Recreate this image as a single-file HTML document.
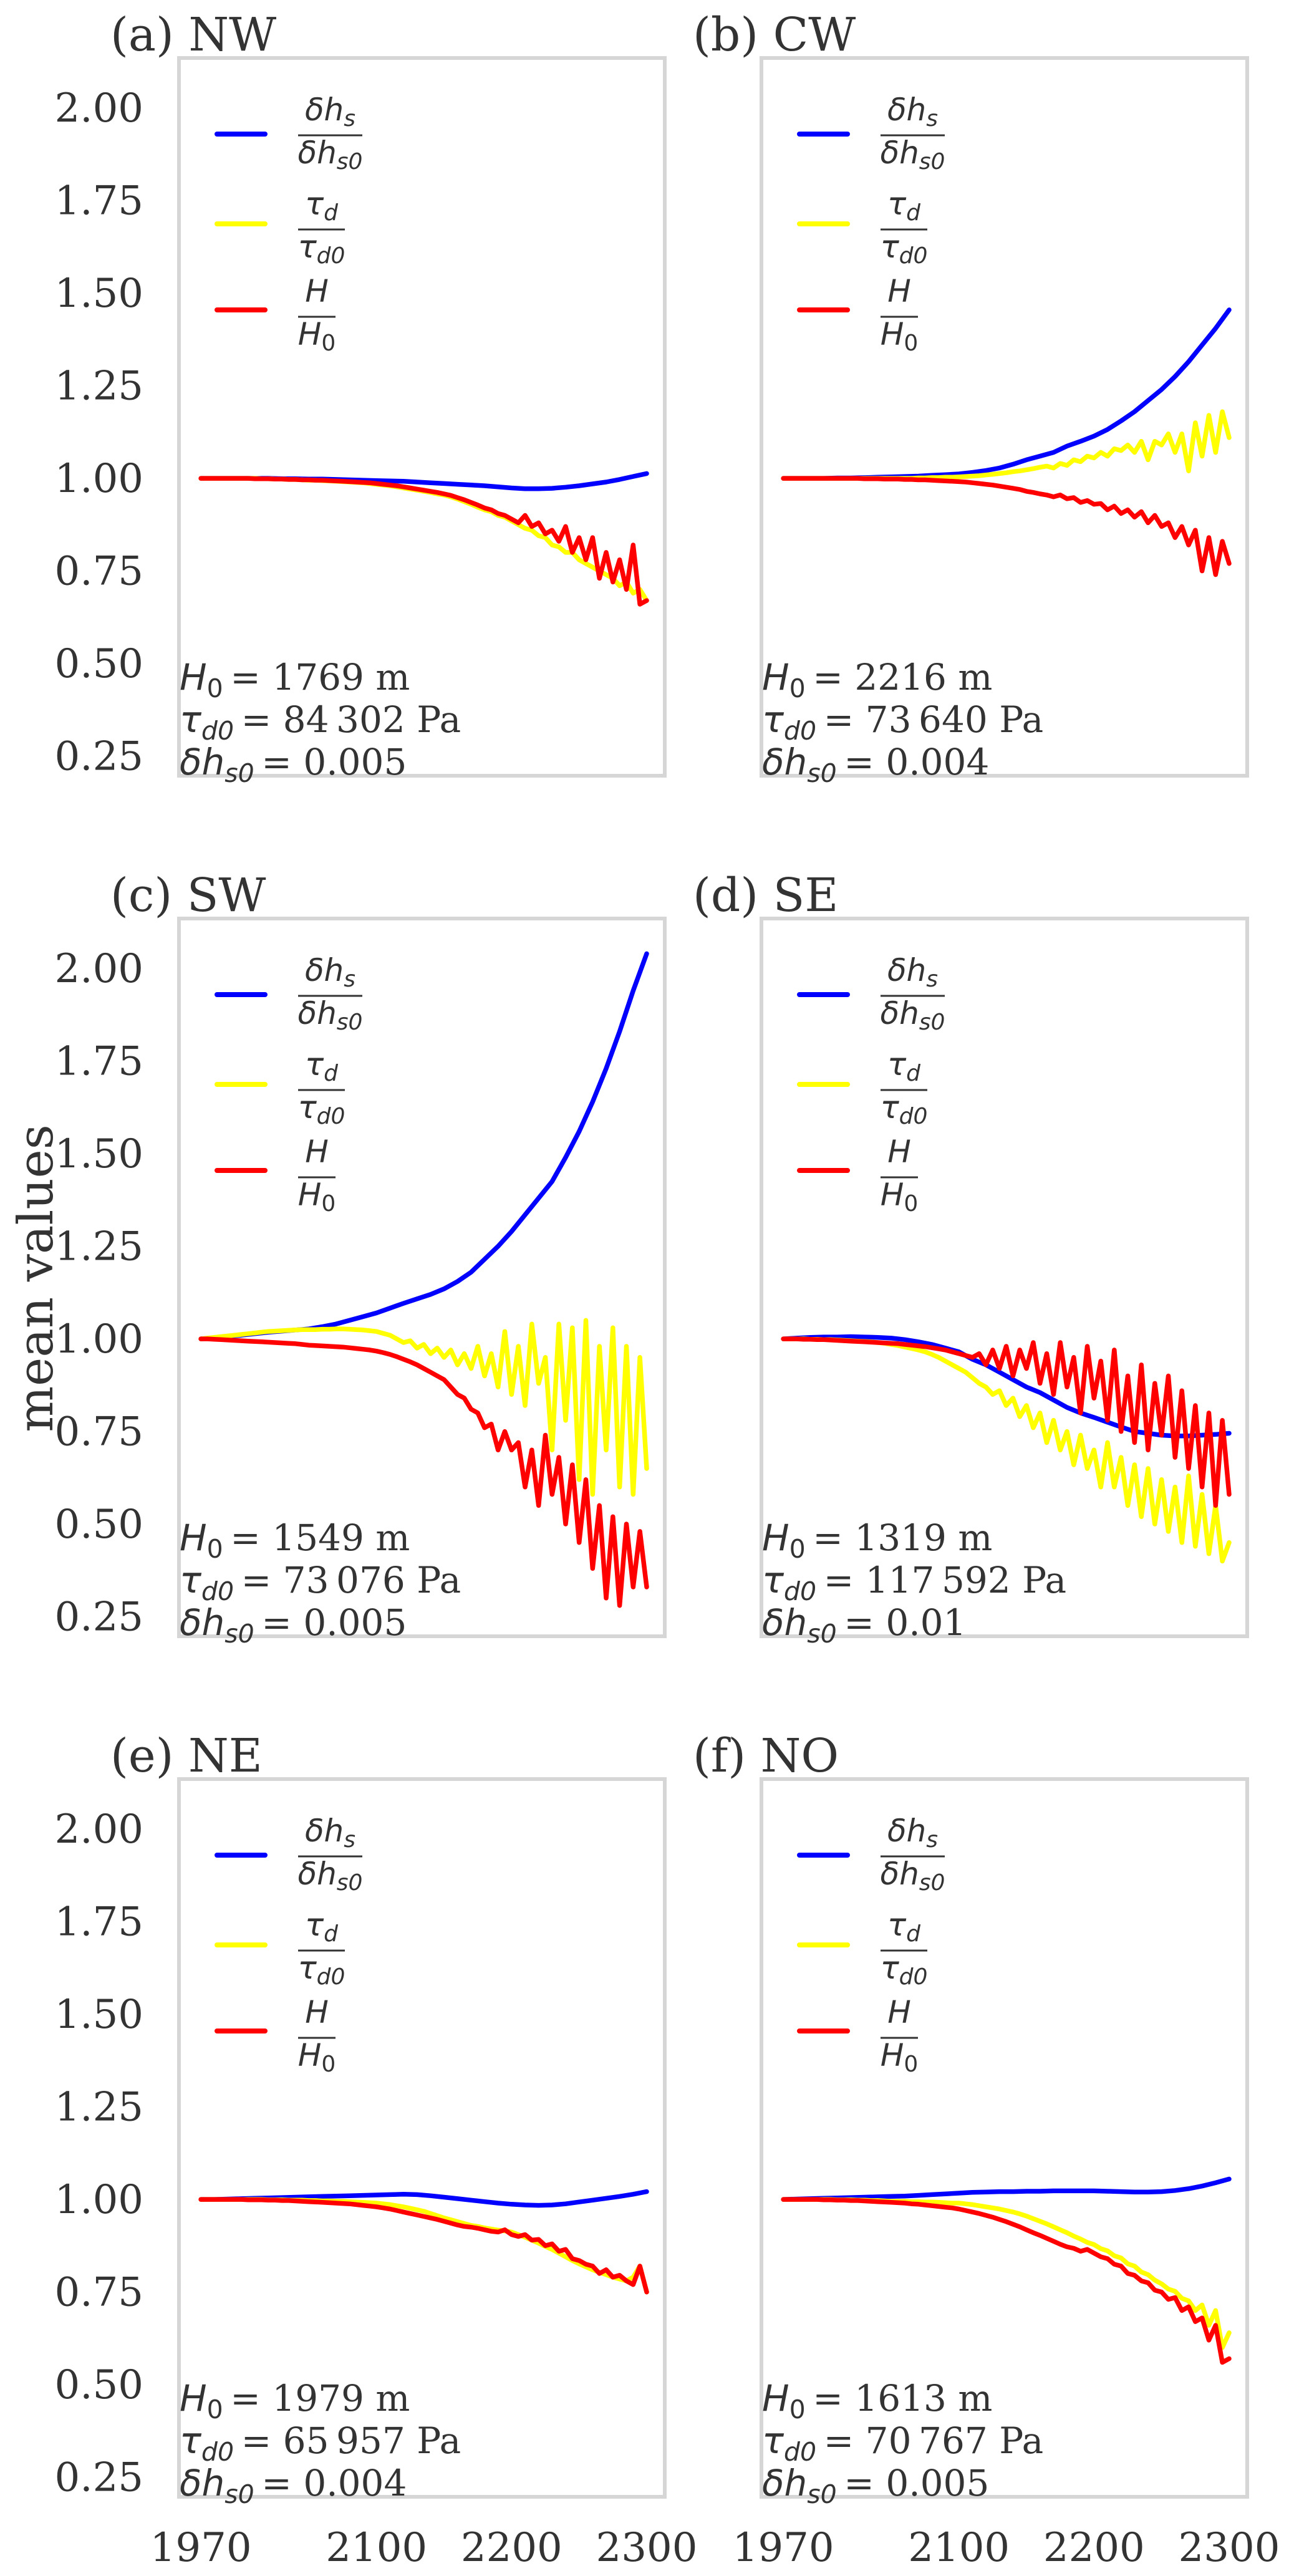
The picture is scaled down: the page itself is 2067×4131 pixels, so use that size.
<!DOCTYPE html>
<html><head><meta charset="utf-8"><title>mean values panels</title>
<style>
html,body{margin:0;padding:0;background:#fff;}
svg{display:block;}
</style></head>
<body>
<svg id="fig" xmlns="http://www.w3.org/2000/svg" width="2067" height="4131" viewBox="0 0 2067 4131">
<rect x="0" y="0" width="2067" height="4131" fill="#ffffff"/>
<text x="0" y="0" transform="translate(84,2050) rotate(-90)" text-anchor="middle" font-family="DejaVu Serif, Liberation Serif, serif" font-size="78" fill="#333">mean values</text>
</svg>
<script>
// ---- data ----
const yTicks = [0.25, 0.5, 0.75, 1.0, 1.25, 1.5, 1.75, 2.0];
const yTickLabels = ["0.25","0.50","0.75","1.00","1.25","1.50","1.75","2.00"];
const xTicks = [1970, 2100, 2200, 2300];
const xTickLabels = ["1970","2100","2200","2300"];
const panelTitles = ["(a) NW","(b) CW","(c) SW","(d) SE","(e) NE","(f) NO"];
const panelH0 = ["1769","2216","1549","1319","1979","1613"];
const panelTau0 = ["84\u2009302","73\u2009640","73\u2009076","117\u2009592","65\u2009957","70\u2009767"];
const panelDh0 = ["0.005","0.004","0.005","0.01","0.004","0.005"];

const years10 = [1970,1980,1990,2000,2010,2020,2030,2040,2050,2060,2070,2080,2090,2100,2110,2120,2130,2140,2150,2160,2170,2180,2190,2200,2210,2220,2230,2240,2250,2260,2270,2280,2290,2300];
const years5 = [1970,1975,1980,1985,1990,1995,2000,2005,2010,2015,2020,2025,2030,2035,2040,2045,2050,2055,2060,2065,2070,2075,2080,2085,2090,2095,2100,2105,2110,2115,2120,2125,2130,2135,2140,2145,2150,2155,2160,2165,2170,2175,2180,2185,2190,2195,2200,2205,2210,2215,2220,2225,2230,2235,2240,2245,2250,2255,2260,2265,2270,2275,2280,2285,2290,2295,2300];

// NW
const nwBlue = [1.0,1.0,1.0,1.0,1.0,1.0,0.999,0.999,0.998,0.998,0.997,0.996,0.995,0.994,0.993,0.992,0.99,0.988,0.986,0.984,0.982,0.98,0.977,0.974,0.972,0.972,0.973,0.976,0.98,0.985,0.99,0.997,1.005,1.013];
const nwYellow = [1.0,1.0,1.0,1.0,1.0,1.0,1.0,1.0,1.0,0.999,0.999,0.998,0.998,0.997,0.997,0.996,0.995,
 0.995,0.994,0.993,0.992,0.991,0.99,0.989,0.988,0.986,0.984,
 0.982,0.98,0.977,0.974,0.971,0.968,0.965,0.962,0.958,0.955,
 0.95,0.944,0.937,0.93,0.922,0.915,0.91,0.9,0.895,0.885,
 0.875,0.865,0.86,0.845,0.84,0.82,0.815,0.8,0.8,0.78,
 0.77,0.76,0.75,0.74,0.73,0.71,0.72,0.69,0.7,0.67];
const nwRed = [1.0,1.0,1.0,1.0,1.0,1.0,1.0,1.0,0.999,0.999,0.999,0.998,0.998,0.997,0.997,0.996,0.996,
 0.995,0.995,0.994,0.993,0.992,0.991,0.99,0.989,0.988,0.986,
 0.984,0.982,0.98,0.977,0.974,0.971,0.968,0.965,0.962,0.958,
 0.954,0.948,0.942,0.935,0.928,0.92,0.915,0.905,0.9,0.89,
 0.88,0.9,0.87,0.88,0.85,0.86,0.83,0.87,0.8,0.84,
 0.78,0.84,0.73,0.8,0.72,0.78,0.7,0.82,0.66,0.67];
// CW
const cwBlue = [1.0,1.0,1.0,1.0,1.001,1.001,1.002,1.003,1.004,1.005,1.006,1.008,1.01,1.012,1.016,1.021,1.028,1.038,1.05,1.06,1.07,1.087,1.1,1.114,1.132,1.155,1.18,1.21,1.24,1.275,1.315,1.36,1.405,1.455];
const cwYellow = [1.0,1.0,1.0,1.0,1.0,1.0,1.0,1.0,1.0,1.0,1.0,1.0,1.0,1.0,1.0,1.0,1.0,
 1.0,1.0,1.0,1.001,1.001,1.002,1.002,1.003,1.003,1.004,
 1.005,1.006,1.007,1.009,1.011,1.013,1.015,1.018,1.02,1.023,
 1.026,1.03,1.033,1.028,1.04,1.035,1.05,1.045,1.06,1.055,
 1.07,1.06,1.08,1.075,1.09,1.07,1.1,1.05,1.1,1.09,
 1.12,1.07,1.12,1.02,1.15,1.06,1.17,1.07,1.18,1.11];
const cwRed = [1.0,1.0,1.0,1.0,1.0,1.0,1.0,1.0,1.0,1.0,1.0,1.0,0.999,0.999,0.999,0.998,0.998,
 0.998,0.997,0.997,0.996,0.996,0.995,0.994,0.993,0.992,0.991,
 0.99,0.988,0.986,0.984,0.982,0.979,0.976,0.973,0.97,0.965,
 0.962,0.958,0.955,0.95,0.955,0.945,0.948,0.935,0.94,0.93,
 0.932,0.915,0.925,0.905,0.915,0.895,0.91,0.88,0.9,0.87,
 0.88,0.84,0.87,0.82,0.86,0.75,0.84,0.74,0.83,0.77];
// SW
const swBlue = [1.0,1.003,1.007,1.01,1.014,1.018,1.021,1.024,1.027,1.033,1.04,1.05,1.06,1.07,1.083,1.096,1.108,1.12,1.135,1.155,1.18,1.215,1.25,1.29,1.335,1.38,1.425,1.49,1.56,1.64,1.73,1.83,1.94,2.04];
const swYellow = [1.0,1.002,1.004,1.006,1.008,1.01,1.012,1.014,1.016,1.018,1.02,1.021,1.022,1.023,1.024,1.025,1.025,
 1.025,1.026,1.026,1.027,1.027,1.026,1.025,1.024,1.022,1.02,
 1.015,1.01,1.0,0.99,0.995,0.975,0.985,0.96,0.975,0.95,
 0.97,0.93,0.96,0.92,0.98,0.9,0.96,0.87,1.02,0.85,
 0.98,0.82,1.04,0.88,0.95,0.7,1.04,0.78,1.03,0.62,
 1.05,0.58,0.98,0.7,1.03,0.6,0.98,0.58,0.95,0.65];
const swRed = [1.0,1.0,0.999,0.998,0.997,0.996,0.995,0.994,0.993,0.992,0.991,0.99,0.989,0.988,0.987,0.985,0.983,
 0.982,0.981,0.98,0.979,0.978,0.976,0.974,0.972,0.97,0.967,
 0.963,0.958,0.952,0.945,0.938,0.93,0.92,0.91,0.9,0.89,
 0.87,0.85,0.84,0.81,0.8,0.76,0.77,0.7,0.75,0.7,
 0.72,0.6,0.7,0.55,0.74,0.58,0.68,0.5,0.66,0.45,
 0.62,0.38,0.55,0.3,0.52,0.28,0.5,0.33,0.48,0.33];
// SE
const seBlue = [1.0,1.002,1.004,1.005,1.005,1.006,1.005,1.004,1.002,0.998,0.992,0.985,0.975,0.965,0.945,0.93,0.91,0.89,0.87,0.855,0.835,0.815,0.8,0.788,0.775,0.762,0.75,0.745,0.74,0.738,0.738,0.74,0.742,0.745];
const seYellow = [1.0,1.0,1.0,1.0,0.999,0.999,0.998,0.998,0.997,0.996,0.995,0.994,0.993,0.992,0.99,0.988,0.985,
 0.982,0.978,0.974,0.97,0.965,0.958,0.95,0.94,0.93,0.92,
 0.91,0.895,0.88,0.87,0.85,0.86,0.82,0.84,0.79,0.82,
 0.76,0.8,0.72,0.78,0.7,0.75,0.66,0.74,0.65,0.7,
 0.6,0.72,0.6,0.68,0.55,0.66,0.52,0.65,0.5,0.62,
 0.48,0.6,0.45,0.63,0.44,0.58,0.42,0.55,0.4,0.45];
const seRed = [1.0,1.0,1.0,0.999,0.999,0.998,0.998,0.997,0.996,0.995,0.994,0.993,0.992,0.991,0.99,0.989,0.988,
 0.987,0.985,0.983,0.981,0.979,0.976,0.973,0.97,0.965,0.96,
 0.955,0.95,0.96,0.93,0.97,0.92,0.98,0.9,0.97,0.92,
 0.99,0.88,0.96,0.85,0.99,0.87,0.95,0.8,0.98,0.84,
 0.94,0.78,0.97,0.75,0.9,0.72,0.93,0.7,0.88,0.74,
 0.9,0.68,0.86,0.65,0.82,0.6,0.8,0.55,0.78,0.58];
// NE
const neBlue = [1.0,1.0,1.001,1.002,1.003,1.004,1.005,1.006,1.007,1.008,1.009,1.01,1.011,1.012,1.013,1.014,1.013,1.01,1.006,1.002,0.998,0.994,0.99,0.987,0.985,0.984,0.985,0.988,0.993,0.998,1.003,1.008,1.014,1.021];
const neYellow = [1.0,1.0,1.0,1.0,1.0,1.0,1.0,1.0,1.0,1.0,0.999,0.999,0.999,0.998,0.998,0.998,0.997,
 0.997,0.996,0.996,0.995,0.995,0.994,0.993,0.992,0.991,0.99,
 0.988,0.986,0.983,0.98,0.976,0.972,0.968,0.962,0.956,0.95,
 0.945,0.94,0.935,0.93,0.927,0.923,0.92,0.917,0.915,0.912,
 0.905,0.898,0.89,0.882,0.873,0.865,0.855,0.845,0.835,0.826,
 0.818,0.81,0.803,0.797,0.79,0.785,0.78,0.79,0.82,0.75];
const neRed = [1.0,1.0,1.0,1.0,1.0,1.0,1.0,0.999,0.999,0.999,0.998,0.998,0.997,0.997,0.996,0.995,0.994,
 0.993,0.992,0.991,0.99,0.989,0.988,0.986,0.984,0.982,0.98,
 0.977,0.974,0.97,0.966,0.962,0.958,0.954,0.95,0.946,0.941,
 0.936,0.931,0.927,0.925,0.922,0.918,0.914,0.912,0.918,0.905,
 0.9,0.905,0.89,0.892,0.875,0.88,0.86,0.865,0.84,0.835,
 0.825,0.82,0.8,0.81,0.79,0.795,0.78,0.77,0.82,0.75];
// NO
const noBlue = [1.0,1.001,1.002,1.003,1.004,1.005,1.006,1.007,1.008,1.009,1.011,1.013,1.015,1.017,1.019,1.02,1.021,1.021,1.022,1.022,1.023,1.023,1.023,1.023,1.022,1.021,1.02,1.02,1.021,1.024,1.029,1.036,1.045,1.055];
const noYellow = [1.0,1.0,1.0,1.0,1.0,1.0,1.0,1.0,0.999,0.999,0.999,0.998,0.998,0.997,0.997,0.996,0.995,
 0.995,0.995,0.994,0.994,0.993,0.993,0.992,0.991,0.99,0.99,
 0.988,0.986,0.983,0.98,0.977,0.974,0.97,0.966,0.961,0.955,
 0.948,0.941,0.934,0.926,0.918,0.91,0.901,0.893,0.884,0.878,
 0.867,0.861,0.848,0.842,0.826,0.82,0.804,0.797,0.782,0.772,
 0.758,0.752,0.733,0.726,0.7,0.715,0.66,0.7,0.6,0.64];
const noRed = [1.0,1.0,1.0,1.0,1.0,1.0,0.999,0.999,0.998,0.998,0.997,0.997,0.996,0.995,0.994,0.993,0.992,
 0.991,0.99,0.988,0.987,0.985,0.983,0.981,0.979,0.977,0.974,
 0.97,0.966,0.962,0.957,0.952,0.946,0.94,0.933,0.926,0.918,
 0.91,0.903,0.895,0.887,0.879,0.872,0.868,0.86,0.865,0.855,
 0.845,0.84,0.825,0.82,0.8,0.795,0.78,0.775,0.755,0.75,
 0.73,0.735,0.7,0.71,0.67,0.68,0.62,0.66,0.56,0.57];

const panelBlue = [nwBlue, cwBlue, swBlue, seBlue, neBlue, noBlue];
const panelYellow = [nwYellow, cwYellow, swYellow, seYellow, neYellow, noYellow];
const panelRed = [nwRed, cwRed, swRed, seRed, neRed, noRed];

// ---- layout ----
const NS = "http://www.w3.org/2000/svg";
const svg = document.getElementById("fig");
const PW = 779, PH = 1151;
const lefts = [287, 1221];
const tops = [93, 1473, 2853];
const xMin = 1953.8, xMax = 2313.4;
const yMin = 0.197, yMax = 2.135;
const SERIF = "DejaVu Serif, Liberation Serif, serif";
const SANS = "DejaVu Sans, Liberation Sans, sans-serif";
const TXT = "#333333";

function mk(tag, attrs, parent) {
  const el = document.createElementNS(NS, tag);
  for (const k in attrs) el.setAttribute(k, attrs[k]);
  (parent || svg).appendChild(el);
  return el;
}
function tspan(parent, txt, font, size, italic, dy) {
  const t = document.createElementNS(NS, "tspan");
  t.setAttribute("font-family", font);
  t.setAttribute("font-size", size);
  if (italic) t.setAttribute("font-style", "italic");
  if (dy) t.setAttribute("dy", dy);
  t.textContent = txt;
  parent.appendChild(t);
  return t;
}

for (let p = 0; p < 6; p++) {
  const col = p % 2, row = Math.floor(p / 2);
  const L = lefts[col], T = tops[row];
  const xs = yr => L + (yr - xMin) / (xMax - xMin) * PW;
  const ys = v => T + (yMax - v) / (yMax - yMin) * PH;

  const g = mk("g", {});
  
  

  const fr = mk("rect", {x: L, y: T, width: PW, height: PH, fill: "none", stroke: "#d6d6d6", "stroke-width": 6}, g);
  
  

  const tt = mk("text", {x: L - 110, y: T - 12, "font-family": SERIF, "font-size": 74, fill: TXT}, g);
  
  
  tt.textContent = panelTitles[p];

  if (col === 0) {
    for (let i = 0; i < yTicks.length; i++) {
      const t = mk("text", {x: 230, y: ys(yTicks[i]) + 22, "text-anchor": "end", "font-family": SERIF, "font-size": 64, fill: TXT}, g);
      
      
      t.textContent = yTickLabels[i];
    }
  }
  if (row === 2) {
    for (let i = 0; i < xTicks.length; i++) {
      const t = mk("text", {x: xs(xTicks[i]), y: 4107, "text-anchor": "middle", "font-family": SERIF, "font-size": 64, fill: TXT}, g);
      
      
      t.textContent = xTickLabels[i];
    }
  }

  const series = [
    [panelBlue[p], years10, "#0000ff", "blue-line"],
    [panelYellow[p], years5, "#ffff00", "yellow-line"],
    [panelRed[p], years5, "#ff0000", "red-line"]
  ];
  for (const s of series) {
    const vals = s[0], yrs = s[1];
    let d = "";
    for (let i = 0; i < vals.length; i++) d += (i ? "L" : "M") + xs(yrs[i]).toFixed(1) + "," + ys(vals[i]).toFixed(1);
    const path = mk("path", {d: d, fill: "none", stroke: s[2], "stroke-width": 7.5, "stroke-linejoin": "round", "stroke-linecap": "round"}, g);
    
    
  }

  const leg = [
    {ly: 122, by: 124, bw: 103, color: "#0000ff", num: [["δh", 0], ["s", 1]], den: [["δh", 0], ["s0", 1]], name: "legend-entry-dhs"},
    {ly: 266, by: 275, bw: 75, color: "#ffff00", num: [["τ", 0], ["d", 1]], den: [["τ", 0], ["d0", 1]], name: "legend-entry-taud"},
    {ly: 404, by: 415, bw: 60, color: "#ff0000", num: [["H", 0]], den: [["H", 0], ["0", 2]], name: "legend-entry-h"}
  ];
  for (const e of leg) {
    const lg = mk("g", {}, g);
    
    
    mk("line", {x1: L + 61, x2: L + 138, y1: T + e.ly, y2: T + e.ly, stroke: e.color, "stroke-width": 8, "stroke-linecap": "round"}, lg);
    const bx = L + 191;
    mk("line", {x1: bx, x2: bx + e.bw, y1: T + e.by, y2: T + e.by, stroke: TXT, "stroke-width": 3}, lg);
    const cx = bx + e.bw / 2;
    const parts = [[e.num, T + e.by - 24], [e.den, T + e.by + 45]];
    for (const pr of parts) {
      const t = mk("text", {x: cx, y: pr[1], "text-anchor": "middle", fill: TXT}, lg);
      for (const q of pr[0]) {
        if (q[1] === 0) tspan(t, q[0], SANS, 50, true, null);
        else if (q[1] === 1) tspan(t, q[0], SANS, 36, true, 9);
        else tspan(t, q[0], SANS, 36, false, 9);
      }
    }
  }

  const ann = mk("g", {}, g);
  
  
  const a1 = mk("text", {x: L + 1, y: T + 1013, fill: TXT}, ann);
  tspan(a1, "H", SANS, 58, true, null);
  tspan(a1, "0", SANS, 41, false, 12);
  tspan(a1, "\u2009= " + panelH0[p] + " m", SERIF, 58, false, -12);
  const a2 = mk("text", {x: L + 1, y: T + 1081, fill: TXT}, ann);
  tspan(a2, "τ", SANS, 58, true, null);
  tspan(a2, "d0", SANS, 41, true, 12);
  tspan(a2, "\u2009= " + panelTau0[p] + " Pa", SERIF, 58, false, -12);
  const a3 = mk("text", {x: L + 1, y: T + 1149, fill: TXT}, ann);
  tspan(a3, "δh", SANS, 58, true, null);
  tspan(a3, "s0", SANS, 41, true, 12);
  tspan(a3, "\u2009= " + panelDh0[p], SERIF, 58, false, -12);
}
</script>
</body></html>
